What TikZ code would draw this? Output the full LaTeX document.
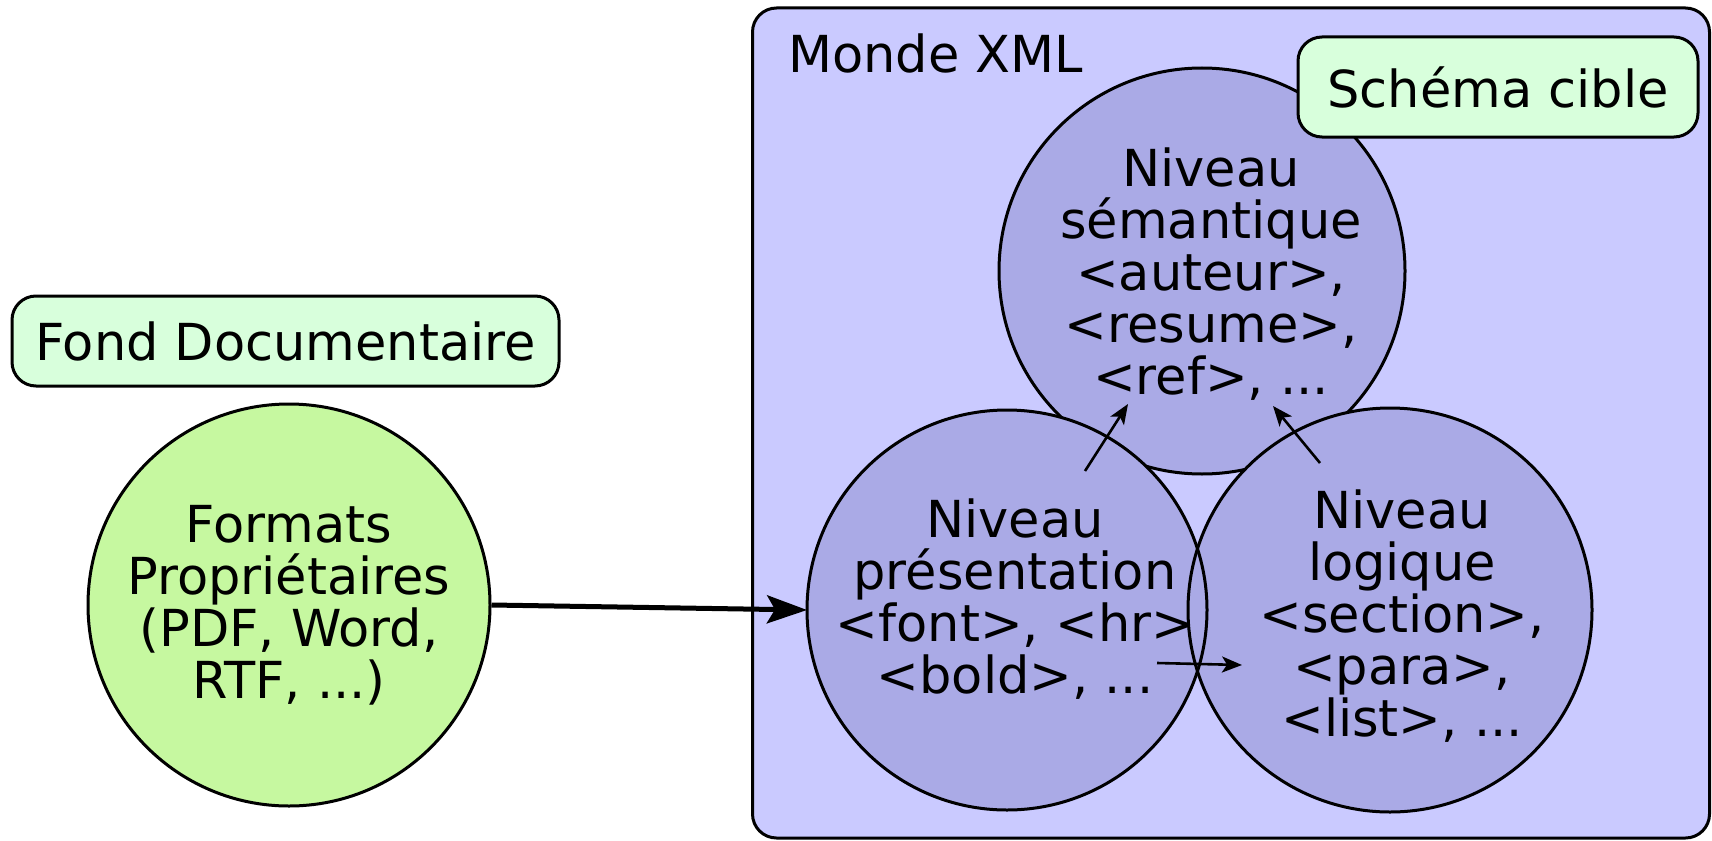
\documentclass[tikz,border=0pt]{standalone}
\usepackage{fontspec}
\setmainfont{DejaVu Sans}
\usetikzlibrary{arrows.meta}
\definecolor{xmlbg}{RGB}{202,202,255}
\definecolor{lvlfill}{RGB}{170,170,230}
\definecolor{fmtfill}{RGB}{198,248,160}
\definecolor{tagfill}{RGB}{216,255,220}
\begin{document}
\begin{tikzpicture}[x=1pt,y=-1pt,
  bigtxt/.style={font=\fontsize{51}{52}\selectfont},
  ring/.style={draw=black, line width=3pt},
  tagbox/.style={ring, fill=tagfill, rounded corners=24pt, bigtxt, inner sep=0pt},
  lvlbg/.style={circle, fill=lvlfill, inner sep=0pt, outer sep=0pt},
  lvltxt/.style={bigtxt, align=center, inner sep=0pt},
  thinarrow/.style={line width=2.6pt, -{Stealth[length=20pt,width=16pt,inset=5pt]}},
  bigarrow/.style={line width=5pt, -{Stealth[length=40pt,width=28pt,inset=8pt]}}
]
\useasboundingbox (0,0) rectangle (1712,840);
% XML world
\node[ring, fill=xmlbg, rounded corners=24pt, minimum width=957pt, minimum height=830pt,
      inner sep=0pt, anchor=north west] (xml) at (751,6.5) {};
\node[bigtxt, anchor=base west, inner sep=0pt] (monde) at (788,73) {Monde XML};
% semantic level
\node[lvlbg, ring, minimum size=406pt,
      label={[lvltxt, name=semtxt, xshift=9pt, yshift=-3pt]center:Niveau\\sémantique\\<auteur>,\\<resume>,\\<ref>, ...}]
      (sem) at (1202,271) {};
% presentation and logical levels: fills, then outlines, then texts
\node[lvlbg, minimum size=400pt] (pres) at (1007,610) {};
\node[lvlbg, minimum size=404pt] (log) at (1390,610) {};
\draw[ring] (pres.center) circle[radius=200pt];
\draw[ring] (log.center) circle[radius=202pt];
\node[lvltxt, xshift=8pt, yshift=11pt] (prestxt) at (pres.center)
  {Niveau\\présentation\\<font>, <hr>\hspace*{16pt}\\<bold>, ...};
\node[lvltxt, xshift=12pt, yshift=-6pt] (logtxt) at (log.center)
  {Niveau\\logique\\<section>,\\<para>,\\<list>, ...};
\node[tagbox, minimum width=400pt, minimum height=100pt] (schema) at (1498,87) {Schéma cible};
% document collection
\node[tagbox, minimum width=547pt, minimum height=90pt] (fond) at (285.5,341) {Fond Documentaire};
\node[circle, ring, fill=fmtfill, minimum size=402pt, lvltxt] (fmt) at (289,605)
  {Formats\\Propriétaires\\(PDF, Word,\\RTF, ...)};
% connectors
\draw[bigarrow] (fmt.east) -- (pres.west);
\coordinate (a1s) at (1085,471);
\coordinate (a1e) at (1128,404);
\coordinate (a2s) at (1320,463);
\coordinate (a2e) at (1273,406);
\coordinate (a3s) at (1157,663);
\coordinate (a3e) at (1242,665);
\draw[thinarrow] (a1s) -- (a1e);
\draw[thinarrow] (a2s) -- (a2e);
\draw[thinarrow] (a3s) -- (a3e);
\end{tikzpicture}
\end{document}
